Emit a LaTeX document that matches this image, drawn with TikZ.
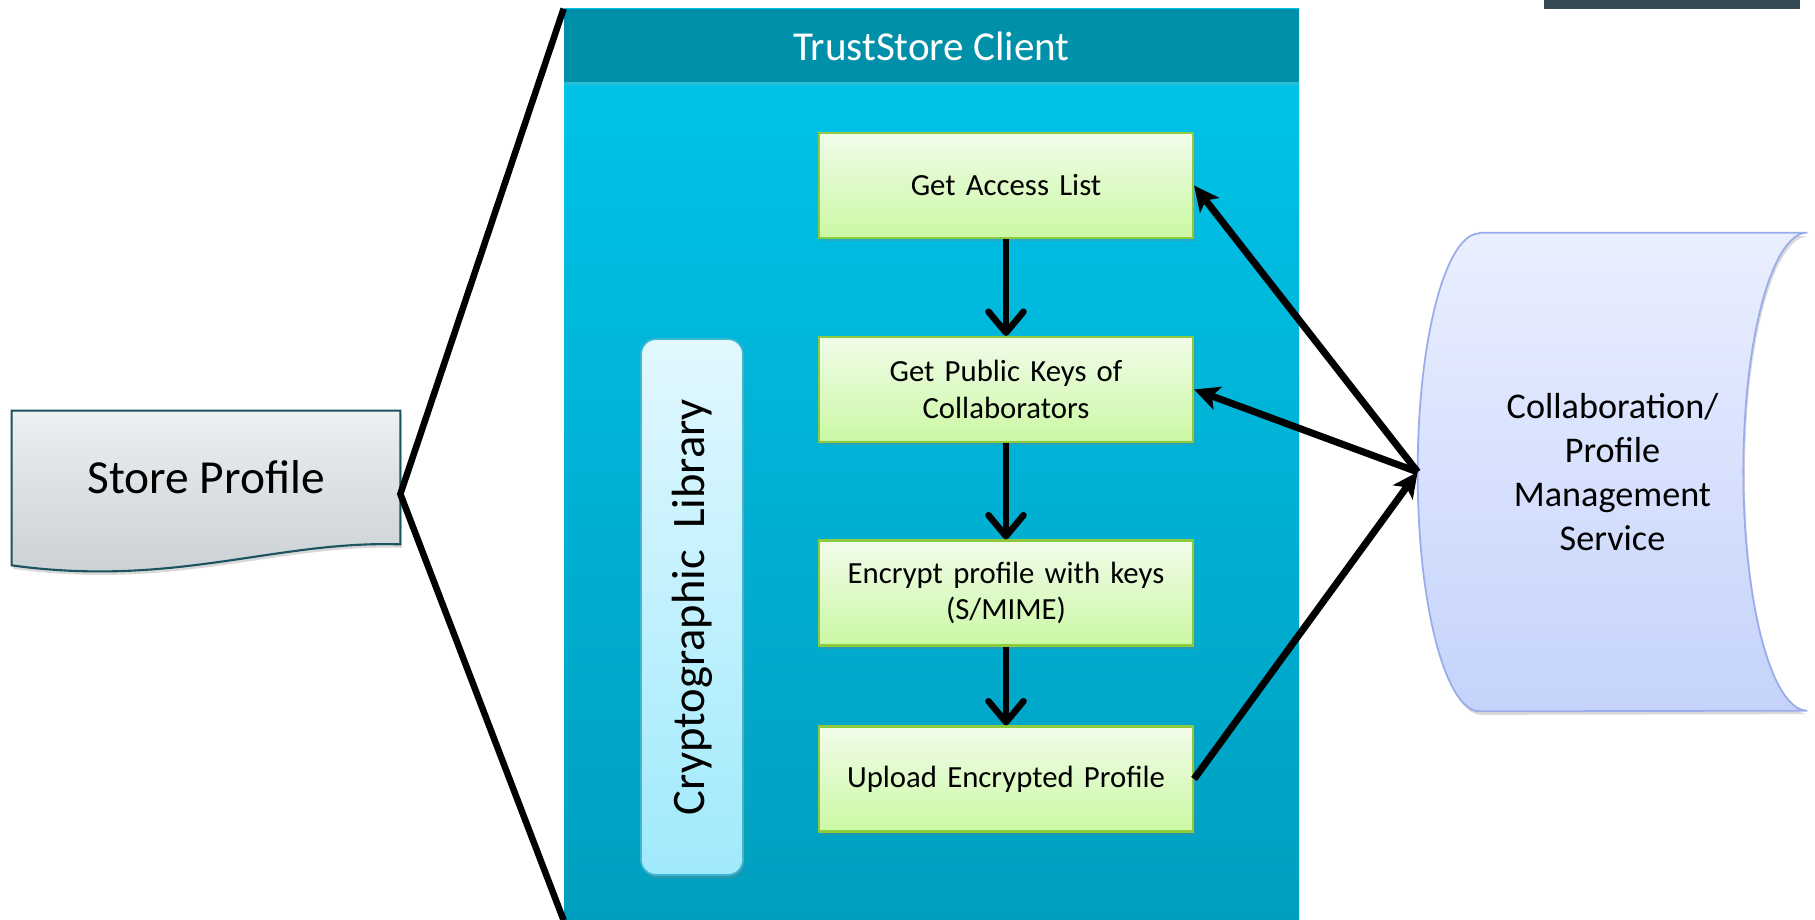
\documentclass[tikz,border=0pt]{standalone}
\usepackage{fontspec}
\setmainfont{Carlito}
\usetikzlibrary{shapes.geometric, arrows.meta, positioning, shadows}
\definecolor{titleteal}{HTML}{0090A9}
\definecolor{titleline}{HTML}{2ABCD8}
\definecolor{paneltop}{HTML}{00C5EB}
\definecolor{panelbot}{HTML}{009FBF}
\definecolor{greentop}{HTML}{F1FCEA}
\definecolor{greenbot}{HTML}{CBF8A4}
\definecolor{greenline}{HTML}{8DCB3E}
\definecolor{cryptotop}{HTML}{E2F7FE}
\definecolor{cryptobot}{HTML}{A0EAFC}
\definecolor{cryptoline}{HTML}{3DB6D2}
\definecolor{docttop}{HTML}{EDEFF1}
\definecolor{docbot}{HTML}{C8CED2}
\definecolor{docline}{HTML}{1B5361}
\definecolor{servtop}{HTML}{EAEFFF}
\definecolor{servbot}{HTML}{C5D3FB}
\definecolor{servline}{HTML}{9AACE9}
\definecolor{darkbar}{HTML}{364A55}
\pgfdeclarelayer{background}
\pgfsetlayers{background,main}
\tikzstyle{arrow} = [line width=0.13cm, -{Straight Barb[length=0.42cm, width=0.7cm, round]}]
\tikzstyle{link} = [line width=0.14cm, -{Stealth[length=0.5cm, width=0.48cm, inset=0.12cm]}]
\tikzstyle{outline} = [line width=0.13cm, line join=miter]
\tikzstyle{stepbox} = [rectangle, draw=greenline, line width=1.2pt, top color=greentop, bottom color=greenbot, minimum width=7.48cm, minimum height=2.1cm, text width=7.2cm, align=center, font=\fontsize{17.5}{21}\selectfont, drop shadow={shadow xshift=0.04cm, shadow yshift=-0.07cm, opacity=0.3}]
\tikzset{
	panel/.style = {rectangle, top color=paneltop, bottom color=panelbot,
		minimum width=14.7cm, minimum height=18.22cm},
	titlebar/.style = {rectangle, fill=titleteal, text=white,
		minimum width=14.7cm, minimum height=1.48cm,
		font=\fontsize{23.4}{28}\selectfont},
	cryptobox/.style = {rectangle, rounded corners=0.3cm, draw=cryptoline, line width=1pt,
		top color=cryptotop, bottom color=cryptobot,
		minimum width=2.04cm, minimum height=10.72cm,
		font=\fontsize{26.5}{30}\selectfont,
		drop shadow={shadow xshift=0.03cm, shadow yshift=-0.07cm, opacity=0.3}},
}

\begin{document}
\begin{tikzpicture}
\useasboundingbox (0,0) rectangle (36.3,-18.4);
% Placement of nodes
\node (client) [panel] at (18.63,-9.29) {};
\node (title) [titlebar, below=0pt of client.north] {TrustStore Client};
\draw [titleline, line width=2pt] (title.south west) -- (title.south east);

\node (access) [stepbox] at (20.12,-3.71) {Get Access List};
\node (keys) [stepbox, below of=access, node distance=4.08cm] {Get Public Keys of\\Collaborators};
\node (encrypt) [stepbox, below of=keys, node distance=4.07cm] {Encrypt profile with keys\\(S/MIME)};
\node (upload) [stepbox, below of=encrypt, node distance=3.72cm] {Upload Encrypted Profile};

\node (crypto) [cryptobox] at (13.84,-12.14) {\rotatebox{90}{Cryptographic~~Library}};

%Store profile and service shapes
\node (profile) [minimum width=7.76cm, minimum height=2.66cm, font=\fontsize{27}{31}\selectfont] at (4.12,-9.55) {Store Profile};
\coordinate (apex) at ([yshift=-0.33cm]profile.east);
\node (service) [minimum width=7.78cm, minimum height=9.56cm, align=center, font=\fontsize{20.6}{25}\selectfont] at (32.25,-9.44) {Collaboration/\\Profile\\Management\\Service};

\begin{pgfonlayer}{background}
\draw [docline, line width=1.2pt, top color=docttop, bottom color=docbot, drop shadow={shadow xshift=0.03cm, shadow yshift=-0.07cm, opacity=0.3}]
	(profile.north west) -- (profile.north east) -- (profile.south east)
	.. controls ([xshift=-2.5cm, yshift=0.08cm]profile.south east) and ([xshift=3.26cm, yshift=-0.87cm]profile.south west) .. ([yshift=-0.42cm]profile.south west) -- cycle;
\draw [servline, line width=1pt, top color=servtop, bottom color=servbot, drop shadow={shadow xshift=0.03cm, shadow yshift=-0.07cm, opacity=0.3}]
	([xshift=1.24cm]service.north west) -- (service.north east)
	arc[start angle=90, end angle=270, x radius=1.28cm, y radius=4.78cm]
	-- ([xshift=1.24cm]service.south west)
	arc[start angle=270, end angle=90, x radius=1.24cm, y radius=4.78cm] -- cycle;
\end{pgfonlayer}

\fill [darkbar] (30.88,0) rectangle (36.0,-0.18);

% Placement of edges
\draw [outline] (client.north west) -- (apex) -- (client.south west);

\draw [arrow] (access) -- (keys);
\draw [arrow] (keys) -- (encrypt);
\draw [arrow] (encrypt) -- (upload);

\draw [link] (service.west) -- (access.east);
\draw [link] (service.west) -- (keys.east);
\draw [link] (upload.east) -- (service.west);
\end{tikzpicture}
\end{document}
